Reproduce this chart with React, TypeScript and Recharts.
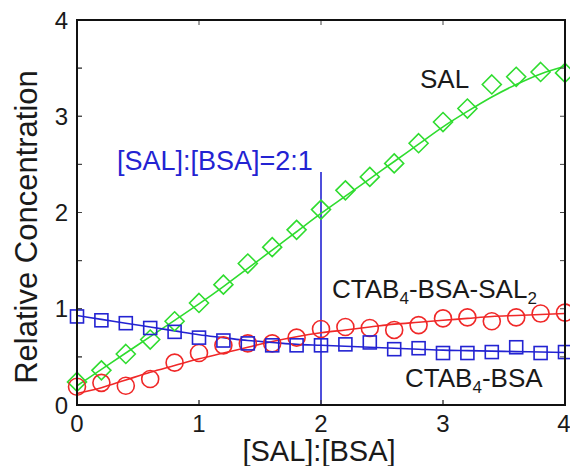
import { ComposedChart, Line, XAxis, YAxis, ReferenceLine } from 'recharts';

// ratio [SAL]:[BSA]
const ratios = [0, 0.2, 0.4, 0.6, 0.8, 1.0, 1.2, 1.4, 1.6, 1.8, 2.0, 2.2, 2.4, 2.6, 2.8, 3.0, 3.2, 3.4, 3.6, 3.8, 4.0];

// measured points
const salPoints = [0.24, 0.36, 0.53, 0.68, 0.87, 1.06, 1.25, 1.47, 1.64, 1.82, 2.03, 2.23, 2.37, 2.51, 2.72, 2.94, 3.08, 3.33, 3.41, 3.46, 3.45];
const complexPoints = [0.19, 0.23, 0.2, 0.27, 0.44, 0.54, 0.62, 0.64, 0.64, 0.7, 0.79, 0.81, 0.8, 0.78, 0.83, 0.9, 0.91, 0.87, 0.91, 0.95, 0.96];
const ctabBsaPoints = [0.92, 0.88, 0.85, 0.8, 0.76, 0.7, 0.67, 0.64, 0.62, 0.62, 0.62, 0.63, 0.65, 0.58, 0.59, 0.54, 0.54, 0.55, 0.6, 0.54, 0.55];

// fitted curves
const salFit = [0.2, 0.37, 0.54, 0.71, 0.88, 1.05, 1.23, 1.42, 1.61, 1.8, 1.99, 2.17, 2.35, 2.53, 2.71, 2.89, 3.05, 3.2, 3.33, 3.44, 3.52];
const complexFit = [0.12, 0.18, 0.26, 0.34, 0.41, 0.48, 0.54, 0.6, 0.66, 0.71, 0.75, 0.78, 0.81, 0.84, 0.86, 0.88, 0.9, 0.92, 0.93, 0.94, 0.95];
const ctabBsaFit = [0.93, 0.89, 0.85, 0.81, 0.77, 0.73, 0.7, 0.67, 0.65, 0.63, 0.62, 0.61, 0.6, 0.59, 0.58, 0.57, 0.565, 0.56, 0.555, 0.55, 0.545];

const xTicks = [0, 1, 2, 3, 4];
const yTicks = [0, 0.5, 1, 1.5, 2, 2.5, 3, 3.5, 4];
const markerRatio = 2;
const markerTop = 2.42;

const GREEN = '#2fdc2f';
const RED = '#f02828';
const BLUE = '#2323d2';
const INK = '#111111';
const FONT = '"Liberation Sans", Arial, sans-serif';

// plot box (matches chart margins + axis sizes below)
const BOX = { left: 77, right: 565, top: 20, bottom: 405 };
const px = (v: number) => BOX.left + (v / 4) * (BOX.right - BOX.left);
const py = (v: number) => BOX.bottom - (v / 4) * (BOX.bottom - BOX.top);

const data = ratios.map((x, i) => ({
  x,
  sal: salPoints[i],
  salFit: salFit[i],
  complex: complexPoints[i],
  complexFit: complexFit[i],
  ctab: ctabBsaPoints[i],
  ctabFit: ctabBsaFit[i],
}));

const Diamond = (props: any) => {
  const { cx, cy, index } = props;
  if (cx == null || cy == null) return null;
  const r = 9.5;
  return (
    <polygon
      key={`d${index}`}
      points={`${cx},${cy - r} ${cx + r},${cy} ${cx},${cy + r} ${cx - r},${cy}`}
      fill="none"
      stroke={GREEN}
      strokeWidth={1.6}
    />
  );
};

const Circle = (props: any) => {
  const { cx, cy, index } = props;
  if (cx == null || cy == null) return null;
  return <circle key={`c${index}`} cx={cx} cy={cy} r={8.5} fill="none" stroke={RED} strokeWidth={1.6} />;
};

const Square = (props: any) => {
  const { cx, cy, index } = props;
  if (cx == null || cy == null) return null;
  return <rect key={`s${index}`} x={cx - 6.5} y={cy - 6.5} width={13} height={13} fill="none" stroke={BLUE} strokeWidth={1.6} />;
};

const tickStyle = { fontSize: 24, fill: '#1a1a1a', fontFamily: FONT };
const intLabel = (v: number) => (Number.isInteger(v) ? String(v) : '');

export default function App() {
  return (
    <div style={{ position: 'absolute', left: 0, top: 0, width: 570, height: 466, background: '#fff' }}>
      <ComposedChart width={570} height={466} data={data} margin={{ top: 20, right: 5, bottom: 6, left: 7 }}>
        <XAxis
          type="number"
          dataKey="x"
          domain={[0, 4]}
          ticks={xTicks}
          height={55}
          tickSize={-5}
          tickMargin={15}
          tick={tickStyle}
          axisLine={{ stroke: INK, strokeWidth: 2 }}
          tickLine={{ stroke: '#444' }}
        />
        <YAxis
          type="number"
          domain={[0, 4]}
          ticks={yTicks}
          width={70}
          tickSize={-5}
          tickMargin={14}
          tickFormatter={intLabel}
          tick={tickStyle}
          axisLine={{ stroke: INK, strokeWidth: 2 }}
          tickLine={{ stroke: '#444' }}
        />
        <ReferenceLine
          segment={[{ x: markerRatio, y: 0 }, { x: markerRatio, y: markerTop }]}
          stroke={BLUE}
          strokeWidth={1.6}
        />
        <Line type="monotone" dataKey="salFit" stroke={GREEN} strokeWidth={1.6} dot={false} isAnimationActive={false} />
        <Line type="monotone" dataKey="complexFit" stroke={RED} strokeWidth={1.6} dot={false} isAnimationActive={false} />
        <Line type="monotone" dataKey="ctabFit" stroke={BLUE} strokeWidth={1.6} dot={false} isAnimationActive={false} />
        <Line dataKey="sal" stroke="none" dot={Diamond} activeDot={false} isAnimationActive={false} />
        <Line dataKey="complex" stroke="none" dot={Circle} activeDot={false} isAnimationActive={false} />
        <Line dataKey="ctab" stroke="none" dot={Square} activeDot={false} isAnimationActive={false} />
      </ComposedChart>

      {/* inward ticks, titles and annotations */}
      <svg width={570} height={466} style={{ position: 'absolute', left: 0, top: 0, pointerEvents: 'none' }} fontFamily={FONT}>
        {xTicks.map((t) => (
          <g key={`xt${t}`} stroke="#444" strokeWidth={1}>
            <line x1={px(t)} x2={px(t)} y1={BOX.bottom} y2={BOX.bottom - 5} />
            <line x1={px(t)} x2={px(t)} y1={BOX.top} y2={BOX.top + 5} />
          </g>
        ))}
        {yTicks.map((t) => (
          <g key={`yt${t}`} stroke="#444" strokeWidth={1}>
            <line x1={BOX.left} x2={BOX.left + 5} y1={py(t)} y2={py(t)} />
            <line x1={BOX.right} x2={BOX.right - 5} y1={py(t)} y2={py(t)} />
          </g>
        ))}
        <text x={37} y={227} transform="rotate(-90 37 227)" textAnchor="middle" fontSize={31} fill="#1a1a1a">
          Relative Concentration
        </text>
        <text x={319} y={461} textAnchor="middle" fontSize={29} fill="#1a1a1a">
          [SAL]:[BSA]
        </text>
        <text x={117} y={170} fontSize={27} fill={BLUE}>
          [SAL]:[BSA]=2:1
        </text>
        <text x={420} y={88} fontSize={26} fill="#1a1a1a">
          SAL
        </text>
        <text x={332} y={298} fontSize={26} fill="#1a1a1a">
          CTAB<tspan fontSize={17} dy={6}>4</tspan>
          <tspan dy={-6}>-BSA-SAL</tspan>
          <tspan fontSize={17} dy={6}>2</tspan>
        </text>
        <text x={405} y={387} fontSize={26} fill="#1a1a1a">
          CTAB<tspan fontSize={17} dy={6}>4</tspan>
          <tspan dy={-6}>-BSA</tspan>
        </text>
      </svg>

      {/* plot frame */}
      <div
        style={{
          position: 'absolute',
          left: BOX.left - 1,
          top: BOX.top - 1,
          width: BOX.right - BOX.left + 2,
          height: BOX.bottom - BOX.top + 2,
          border: `2px solid ${INK}`,
          boxSizing: 'border-box',
          pointerEvents: 'none',
        }}
      />
    </div>
  );
}
